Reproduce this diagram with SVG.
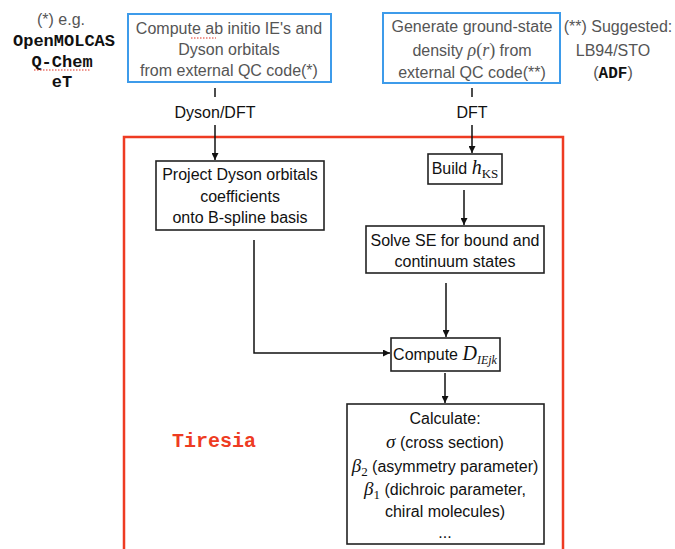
<svg xmlns="http://www.w3.org/2000/svg" width="675" height="549" viewBox="0 0 675 549">
<defs>
<marker id="ah" viewBox="0 0 10 10" refX="10" refY="5" markerWidth="7" markerHeight="7" orient="auto" markerUnits="userSpaceOnUse"><path d="M0,0 L10,5 L0,10 z" fill="#111"/></marker>
</defs>
<style>
.bb{fill:#fff;stroke:#3d9bea;stroke-width:2}
.kb{fill:#fff;stroke:#222;stroke-width:1.6}
.gt{font-family:"Liberation Sans",Arial,sans-serif;font-size:16px;fill:#555;text-anchor:middle}
.t{font-family:"Liberation Sans",Arial,sans-serif;font-size:16px;fill:#111;text-anchor:middle}
.m{font-family:"Liberation Mono","Courier New",monospace;font-weight:bold;font-size:17px;fill:#111;text-anchor:middle}
.mi{font-family:"Liberation Serif","Times New Roman",serif;font-style:italic}
.mr{font-family:"Liberation Serif","Times New Roman",serif}
.c{stroke:#111;stroke-width:1.5;fill:none}
.sq{stroke:#e03020;stroke-width:1;stroke-dasharray:1.5 1.5;fill:none}
</style>
<rect id="tiresia-frame" x="124" y="137" width="439" height="430" fill="none" stroke="#ee3b22" stroke-width="2.5"/>
<g id="notes-left">
<text class="gt" x="61" y="25">(*) e.g.</text>
<text class="m" x="64" y="46">OpenMOLCAS</text>
<text class="m" x="62" y="67">Q-Chem</text>
<path class="sq" d="M34,70 L90,70"/>
<text class="m" x="62" y="87">eT</text>
</g>
<g id="notes-right">
<text class="gt" x="618" y="32">(**) Suggested:</text>
<text class="gt" x="613" y="56">LB94/STO</text>
<text class="gt" x="613" y="78">(<tspan font-family="Liberation Mono,monospace" font-weight="bold" fill="#111">ADF</tspan>)</text>
</g>
<g id="node-dyson-input">
<rect class="bb" x="128" y="14" width="203" height="68"/>
<text class="gt" x="229" y="34">Compute ab initio IE's and</text>
<path class="sq" d="M191,38 L216,38"/>
<text class="gt" x="229" y="55">Dyson orbitals</text>
<text class="gt" x="229" y="76">from external QC code(*)</text>
</g>
<g id="node-density-input">
<rect class="bb" x="383" y="13" width="177" height="70"/>
<text class="gt" x="472" y="32">Generate ground-state</text>
<text class="gt" x="472" y="56">density <tspan class="mi" font-size="18">ρ</tspan><tspan class="mr" font-size="18">(</tspan><tspan class="mi" font-size="18">r</tspan><tspan class="mr" font-size="18">)</tspan> from</text>
<text class="gt" x="472" y="78">external QC code(**)</text>
</g>
<g id="node-project">
<rect class="kb" x="156" y="161" width="168" height="69"/>
<text class="t" x="240" y="180">Project Dyson orbitals</text>
<text class="t" x="240" y="202">coefficients</text>
<text class="t" x="240" y="223">onto B-spline basis</text>
</g>
<g id="node-build">
<rect class="kb" x="428" y="154" width="74" height="30"/>
<text class="t" x="465" y="174">Build <tspan class="mi" font-size="20">h</tspan><tspan class="mr" font-size="13" dy="4">KS</tspan></text>
</g>
<g id="node-solve">
<rect class="kb" x="366" y="226" width="178" height="47"/>
<text class="t" x="455" y="246">Solve SE for bound and</text>
<text class="t" x="455" y="267">continuum states</text>
</g>
<g id="node-compute">
<rect class="kb" x="391" y="338" width="109" height="33"/>
<text class="t" x="445" y="360">Compute <tspan class="mi" font-size="20">D</tspan><tspan class="mi" font-size="12" dy="4">IEjk</tspan></text>
</g>
<g id="node-calculate">
<rect class="kb" x="347" y="404" width="197" height="140"/>
<text class="t" x="445" y="424">Calculate:</text>
<text class="t" x="445" y="448"><tspan class="mi" font-size="19">σ</tspan> (cross section)</text>
<text class="t" x="445" y="472"><tspan class="mi" font-size="19">β</tspan><tspan class="mr" font-size="13" dy="4">2</tspan><tspan dy="-4"> (asymmetry parameter)</tspan></text>
<text class="t" x="445" y="495"><tspan class="mi" font-size="19">β</tspan><tspan class="mr" font-size="13" dy="4">1</tspan><tspan dy="-4"> (dichroic parameter,</tspan></text>
<text class="t" x="445" y="517">chiral molecules)</text>
<text class="t" x="445" y="538">...</text>
</g>
<g id="label-tiresia">
<text x="214" y="447" font-family="Liberation Mono,'Courier New',monospace" font-weight="bold" font-size="20" fill="#ee3b22" text-anchor="middle">Tiresia</text>
</g>
<g id="connectors">
<path class="c" d="M215,88 L215,97"/>
<text class="t" x="215" y="118">Dyson/DFT</text>
<path class="c" d="M215,125 L215,160" marker-end="url(#ah)"/>
<path class="c" d="M472,88 L472,97"/>
<text class="t" x="472" y="118">DFT</text>
<path class="c" d="M472,125 L472,153" marker-end="url(#ah)"/>
<path class="c" d="M464,190 L464,225" marker-end="url(#ah)"/>
<path class="c" d="M446,283 L446,337" marker-end="url(#ah)"/>
<path class="c" d="M254,240 L254,353 L390,353" marker-end="url(#ah)"/>
<path class="c" d="M445,373 L445,403" marker-end="url(#ah)"/>
</g>
</svg>
